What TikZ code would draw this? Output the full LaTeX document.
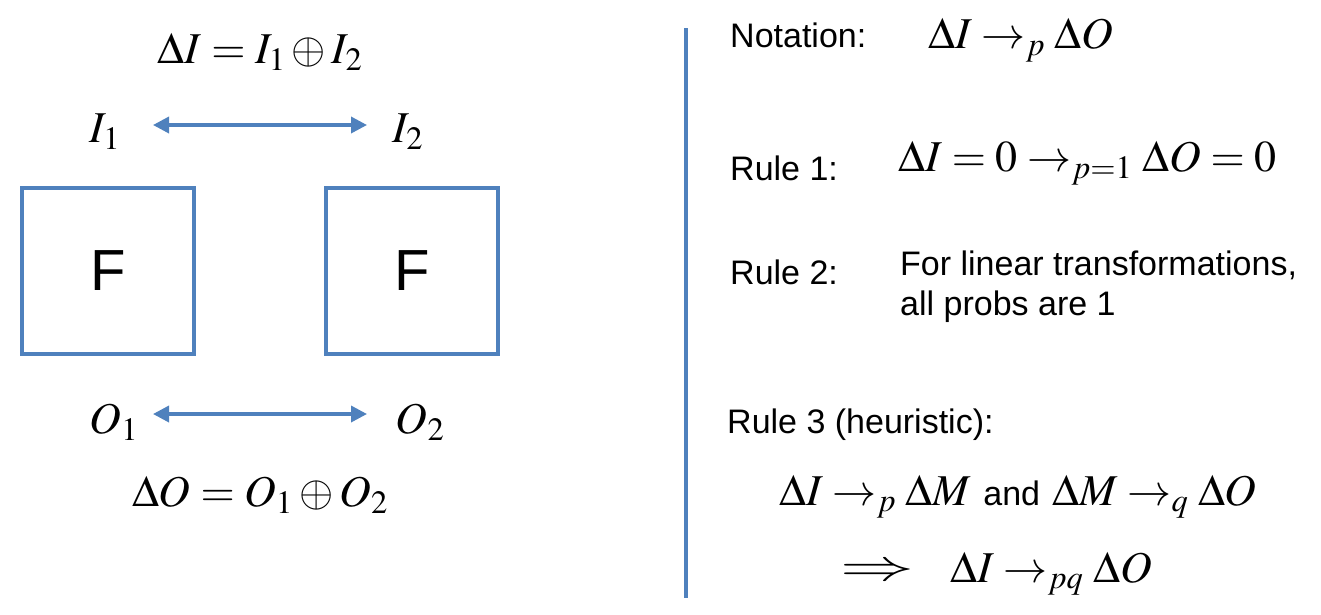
\documentclass[tikz,border=0pt]{standalone}
\usepackage{mathptmx}
\usepackage[no-math]{fontspec}
\setmainfont{Liberation Sans}
\usetikzlibrary{arrows.meta}
\definecolor{bl}{RGB}{79,129,189}
\tikzset{
  box/.style={draw=bl,line width=4pt,minimum width=172pt,minimum height=166pt,inner sep=0pt,font=\fontsize{58}{60}\selectfont},
  dbl/.style={draw=bl,line width=3.5pt,{Triangle[length=16pt,width=16pt]}-{Triangle[length=16pt,width=16pt]}},
  mth/.style={inner sep=0pt,font=\fontsize{44}{50}\selectfont},
  txt/.style={inner sep=0pt,anchor=west,font=\fontsize{34}{40}\selectfont},
}
\begin{document}
\begin{tikzpicture}[x=1pt,y=-1pt]
\useasboundingbox (0,0) rectangle (1321,614);
% left part
\node[mth] (dI) at (260,52) {$\Delta I = I_1 \oplus I_2$};
\node[mth] (I1) at (105,132) {$I_1$};
\node[mth] (I2) at (408,132) {$I_2$};
\node[box] (F1) at (108,271) {F};
\node[box] (F2) at (412,271) {F};
\node[mth] (O1) at (114,422) {$O_1$};
\node[mth] (O2) at (420,422) {$O_2$};
\node[mth] (dO) at (260,495) {$\Delta O = O_1 \oplus O_2$};
\coordinate (a1) at (153,125); \coordinate (a2) at (367,125);
\coordinate (b1) at (153,414); \coordinate (b2) at (367,414);
\draw[dbl] (a1) -- (a2);
\draw[dbl] (b1) -- (b2);
% divider
\coordinate (v1) at (686,28); \coordinate (v2) at (686,598);
\draw[bl,line width=4pt] (v1) -- (v2);
% right part
\node[txt] (n) at (730,35) {Notation:};
\node[mth,anchor=west] (nm) at (928,40) {$\Delta I \rightarrow_p \Delta O$};
\node[txt] (r1) at (730,168) {Rule 1:};
\node[mth,anchor=west] (r1m) at (898,163) {$\Delta I = 0 \rightarrow_{p=1} \Delta O = 0$};
\node[txt] (r2) at (730,272) {Rule 2:};
\node[txt,align=left] (r2t) at (900,287) {For linear transformations,\\all probs are 1};
\node[txt] (r3) at (727,425) {Rule 3 (heuristic):};
\node[mth] (r3a) at (1018,497) {$\Delta I \rightarrow_p \Delta M$ {\fontsize{34}{40}\selectfont and} $\Delta M \rightarrow_q \Delta O$};
\node[mth] (imp) at (877,572) {\scalebox{1.68}[1]{$\Rightarrow$}};
\node[mth,anchor=west] (r3b) at (950,574) {$\Delta I \rightarrow_{pq} \Delta O$};
\end{tikzpicture}
\end{document}
